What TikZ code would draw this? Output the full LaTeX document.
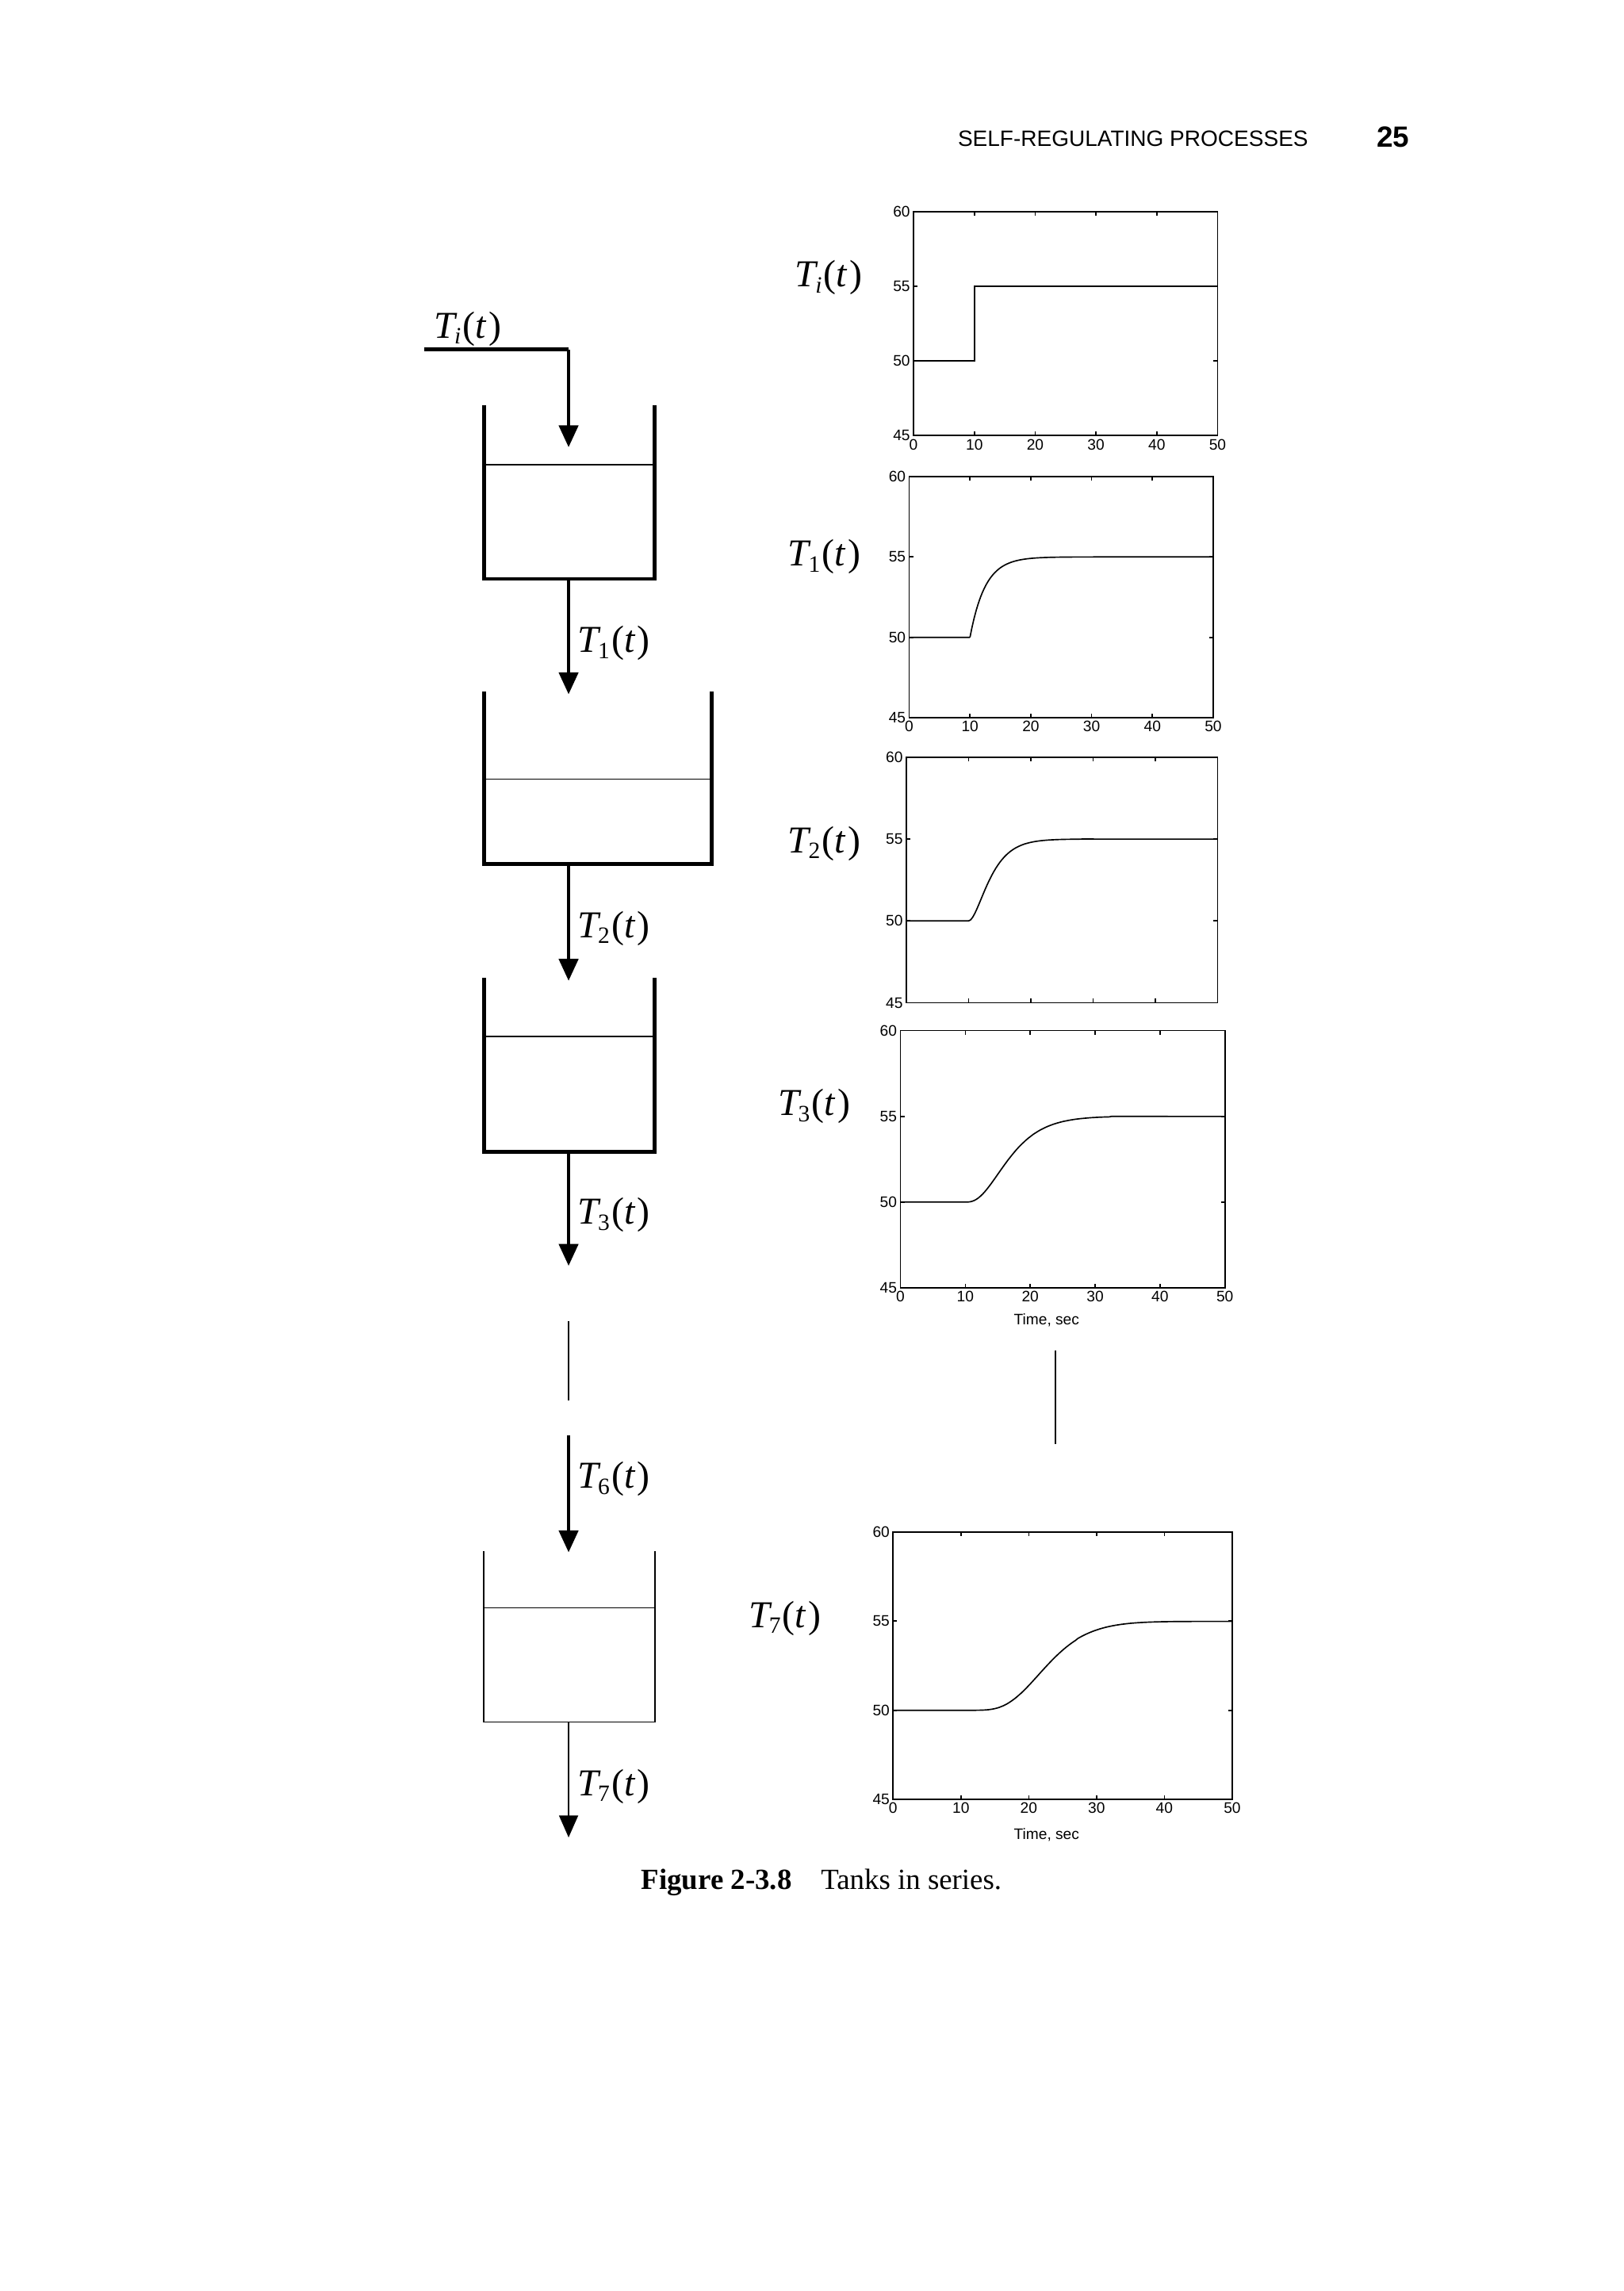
\documentclass[tikz,border=0pt]{standalone}
\usepackage{fontspec}
\setmainfont{Liberation Serif}
\setsansfont{Liberation Sans}
\usetikzlibrary{arrows.meta}
\tikzset{
 thick pipe/.style={line width=1.3pt,-{Triangle[width=6.5pt,length=7.5pt]}},
 thin pipe/.style={line width=0.45pt,-{Triangle[width=6.5pt,length=7.5pt]}},
 tank/.style={line width=1.3pt},
 level/.style={line width=0.45pt},
 lab/.style={font=\fontsize{13}{13}\selectfont,anchor=center},
 tick/.style={font=\sffamily\fontsize{5.2}{5.2}\selectfont,inner sep=1pt},
 axisbox/.style={line width=0.45pt},
 curve/.style={line width=0.45pt}
}
\newcommand\T[1]{\textit{T}\kern-0.08em\raisebox{-0.35ex}{\fontsize{8}{8}\selectfont #1}\kern0.05em(\textit{t}\kern0.05em)}
\newcommand\plotaxes[6]{% x0 x1 ytop ybot xlabels(1/0) curve
 \pgfmathsetmacro\ux{(#2-#1)/50*0.5}
 \pgfmathsetmacro\uy{(#4-#3)/15*0.5}
 \begin{scope}[xshift=#1*0.5pt,yshift=-#4*0.5pt,x=\ux pt,y=\uy pt]
  \draw[axisbox] (0,0) rectangle (50,15);
  \foreach \t in {10,20,30,40} {\draw[axisbox] (\t,0)--++(0,1.4pt) (\t,15)--++(0,-1.4pt);}
  \foreach \v in {5,10} {\draw[axisbox] (0,\v)--++(1.4pt,0) (50,\v)--++(-1.4pt,0);}
  \foreach \v/\l in {0/45,5/50,10/55,15/60} {\node[tick,anchor=east] (yl\l) at (0,\v) {\l};}
  \ifnum#5=1
   \foreach \t in {0,10,20,30,40,50} {\node[tick,anchor=north] (xl\t) at (\t,0) {\t};}
  \fi
  #6
 \end{scope}}
\begin{document}
\begin{tikzpicture}[x=0.5pt,y=-0.5pt]
\useasboundingbox (0,0) rectangle (1111,1567.3);
% header
\node[font=\sffamily\fontsize{7.6}{8}\selectfont,anchor=east] (hdr) at (902,95) {SELF-REGULATING PROCESSES};
\node[font=\sffamily\bfseries\fontsize{10}{10}\selectfont,anchor=center] (pg) at (953,94) {25};
% tanks
\coordinate (in0) at (290,239);
\coordinate (in1) at (389,239);
\coordinate (in2) at (389,306);
\draw[line width=1.3pt] (in0)--(in1);
\draw[thick pipe] (in1)--(in2);
\node[lab] (Ti) at (320,225) {\T{\textit{i}}};
% tank 1
\draw[tank] (331,277)--(331,396)--(448,396)--(448,277);
\draw[level] (331,318)--(448,318);
\coordinate (p1a) at (389,396); \coordinate (p1b) at (389,475);
\draw[thick pipe] (p1a)--(p1b);
\node[lab] (L1) at (420,440) {\T{1}};
% tank 2
\draw[tank] (331,473)--(331,591)--(487,591)--(487,473);
\draw[level] (331,533)--(487,533);
\coordinate (p2a) at (389,591); \coordinate (p2b) at (389,671);
\draw[thick pipe] (p2a)--(p2b);
\node[lab] (L2) at (420,635) {\T{2}};
% tank 3
\draw[tank] (331,669)--(331,788)--(448,788)--(448,669);
\draw[level] (331,709)--(448,709);
\coordinate (p3a) at (389,788); \coordinate (p3b) at (389,866);
\draw[thick pipe] (p3a)--(p3b);
\node[lab] (L3) at (420,831) {\T{3}};
% gap
\coordinate (g1) at (389,904); \coordinate (g2) at (389,958);
\draw[level] (g1)--(g2);
\coordinate (p6a) at (389,982); \coordinate (p6b) at (389,1062);
\draw[thick pipe] (p6a)--(p6b);
\node[lab] (L6) at (420,1012) {\T{6}};
% tank 7
\draw[level] (331,1061)--(331,1178)--(448,1178)--(448,1061);
\draw[level] (331,1100)--(448,1100);
\coordinate (p7a) at (389,1178); \coordinate (p7b) at (389,1257);
\draw[thin pipe] (p7a)--(p7b);
\node[lab] (L7) at (420,1222) {\T{7}};
% plots
\node[lab] (Pi) at (567,190) {\T{\textit{i}}};
\plotaxes{625}{833}{145}{298}{1}{\draw[curve] (0,5)--(10,5)--(10,10)--(50,10);}
\node[lab] (P1) at (564,381) {\T{1}};
\plotaxes{622}{830}{326}{491}{1}{\draw[curve] (0,5)--(10,5) plot[domain=10:50,samples=120] (\x,{5+5*(1-exp(-(\x-10)/2.5))});}
\node[lab] (P2) at (564,577) {\T{2}};
\plotaxes{620}{833}{518}{686}{0}{\draw[curve] (0,5)--(10,5) plot[domain=10:50,samples=120] (\x,{5+5*(1-exp(-(\x-10)/2)*(1+(\x-10)/2))});}
\node[lab] (P3) at (557,757) {\T{3}};
\plotaxes{616}{838}{705}{881}{1}{\draw[curve] (0,5)--(10,5) plot[domain=10:50,samples=120] (\x,{5+5*(1-exp(-(\x-10)/2.5)*(1+(\x-10)/2.5+((\x-10)/2.5)^2/2))});}
\node[font=\sffamily\fontsize{5.2}{5.2}\selectfont] (tl3) at (716,903) {Time, sec};
\coordinate (v1) at (722,924); \coordinate (v2) at (722,988);
\draw[level] (v1)--(v2);
\node[lab] (P7) at (537,1107) {\T{7}};
\plotaxes{611}{843}{1048}{1231}{1}{\draw[curve] (0,5)--(10.05,5) plot[domain=10.05:50,samples=150] (\x,{5+5*(1-exp(-(\x-10)/1.9)*(1+(\x-10)/1.9+((\x-10)/1.9)^2/2))
 -5*( exp(3*ln((\x-10)/1.9)-(\x-10)/1.9)/6 + exp(4*ln((\x-10)/1.9)-(\x-10)/1.9)/24 + exp(5*ln((\x-10)/1.9)-(\x-10)/1.9)/120 + exp(6*ln((\x-10)/1.9)-(\x-10)/1.9)/720 )});}
\node[font=\sffamily\fontsize{5.2}{5.2}\selectfont] (tl7) at (716,1255) {Time, sec};
% caption
\node[font=\fontsize{10}{10}\selectfont] (cap) at (562,1288) {\textbf{Figure 2-3.8}\quad Tanks in series.};
\end{tikzpicture}
\end{document}
